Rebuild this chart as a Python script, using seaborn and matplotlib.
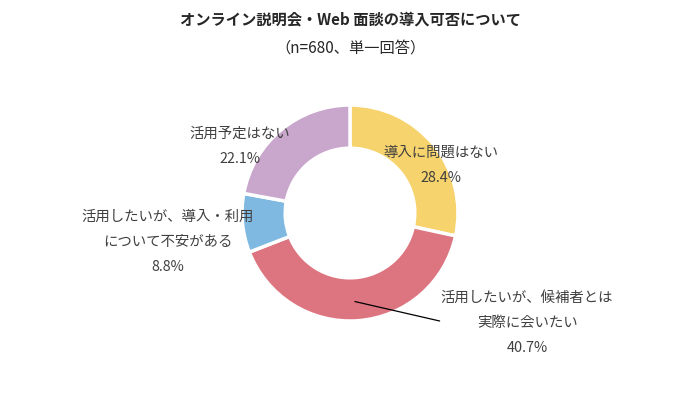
import matplotlib
matplotlib.use("Agg")
import matplotlib.pyplot as plt
import seaborn as sns

sns.set_theme(style="white")
plt.rcParams['font.family'] = ['Noto Sans CJK JP', 'DejaVu Sans']

categories = ["導入に問題はない", "活用したいが、候補者とは\n実際に会いたい",
              "活用したいが、導入・利用\nについて不安がある", "活用予定はない"]
values = [28.4, 40.7, 8.8, 22.1]
pct_labels = ["28.4%", "40.7%", "8.8%", "22.1%"]
colors = ["#F6D36C", "#DD7580", "#7FB9E1", "#C9A6CC"]

fig = plt.figure(figsize=(6.84, 3.99), dpi=100)
ax = fig.add_axes([0, 0, 1, 1])

ax.pie(values, colors=colors, startangle=90, counterclock=False, radius=1.0,
       wedgeprops=dict(width=0.4, edgecolor="white", linewidth=2.5))
ax.set_xlim(-350/108, (684-350)/108)
ax.set_ylim(-186/108, (399-186)/108)
ax.set_aspect("auto")
ax.axis("off")

tc = "#404040"
fs = 10.4
label_pos = [(0.84, 0.44), (1.64, -1.02), (-1.69, -0.265), (-1.02, 0.62)]
for (x, y), cat, p in zip(label_pos, categories, pct_labels):
    ax.text(x, y, cat + "\n" + p, ha="center", va="center",
            fontsize=fs, color=tc, linespacing=2.0)

ax.plot([0.046, 0.83], [-0.82, -1.0], color="black", lw=0.9)

fig.text(350/684, 1-19/399, "オンライン説明会・Web 面談の導入可否について",
         ha="center", va="center", fontsize=11, fontweight="bold", color="#262626")
fig.text(350/684, 1-48/399, "（n=680、単一回答）",
         ha="center", va="center", fontsize=11, color="#262626")

fig.savefig("out.png", dpi=100)
